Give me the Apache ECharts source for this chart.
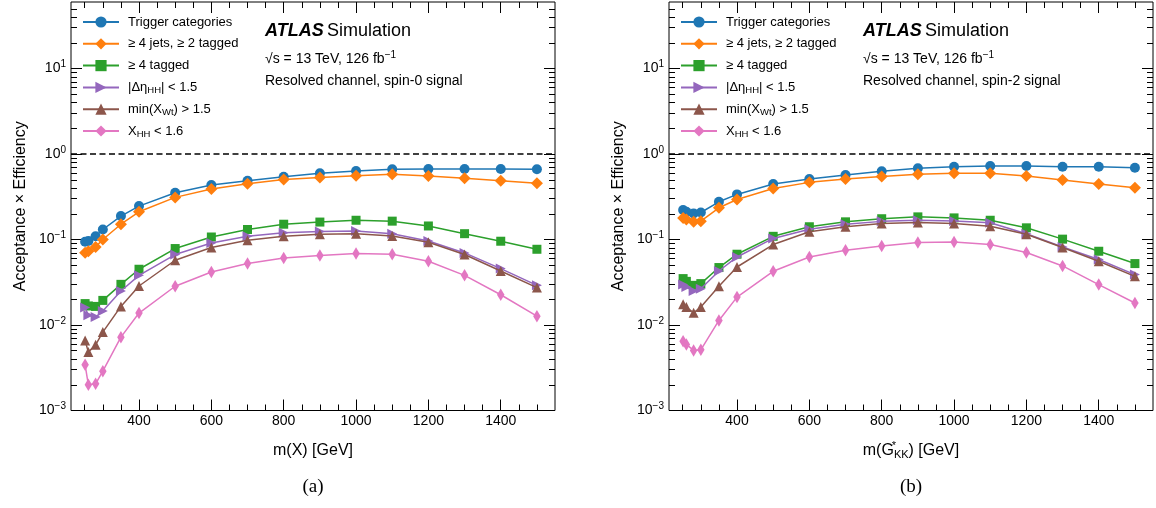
<!DOCTYPE html>
<html>
<head>
<meta charset="utf-8">
<script src="https://cdn.jsdelivr.net/npm/echarts@6/dist/echarts.min.js"></script>
<style>html,body{margin:0;padding:0;background:#fff}#c{width:1156px;height:508px}</style>
</head>
<body>
<div id="c"></div>
<script>
// ---------- data ----------
const massX = [251, 260, 280, 300, 350, 400, 500, 600, 700, 800, 900, 1000, 1100, 1200, 1300, 1400, 1500];

const seriesNames = ['Trigger categories', '≥ 4 jets, ≥ 2 tagged', '≥ 4 tagged', '|Δη_HH| < 1.5', 'min(X_Wt) > 1.5', 'X_HH < 1.6'];

// (a) spin-0
const trigger0 = [0.094, 0.096, 0.109, 0.131, 0.188, 0.246, 0.352, 0.434, 0.486, 0.542, 0.594, 0.632, 0.662, 0.667, 0.667, 0.667, 0.665];
const jets0    = [0.070, 0.073, 0.082, 0.100, 0.151, 0.211, 0.311, 0.389, 0.449, 0.505, 0.530, 0.557, 0.578, 0.552, 0.519, 0.486, 0.454];
const tagged0  = [0.0178, 0.0167, 0.0165, 0.0194, 0.0299, 0.0449, 0.0784, 0.107, 0.131, 0.151, 0.160, 0.168, 0.164, 0.144, 0.117, 0.0955, 0.0769];
const deta0    = [0.0160, 0.0130, 0.0124, 0.0146, 0.0250, 0.0381, 0.0667, 0.0912, 0.109, 0.120, 0.124, 0.126, 0.117, 0.096, 0.0697, 0.0457, 0.0291];
const xwt0     = [0.00659, 0.00482, 0.00587, 0.00826, 0.0165, 0.0286, 0.0572, 0.0806, 0.0982, 0.109, 0.115, 0.117, 0.110, 0.0929, 0.0667, 0.0428, 0.0274];
const xhh0     = [0.00342, 0.00200, 0.00205, 0.00288, 0.00721, 0.0138, 0.0284, 0.0417, 0.0523, 0.0609, 0.065, 0.0686, 0.0673, 0.0557, 0.0381, 0.0226, 0.0127];

// (b) spin-2
const trigger2 = [0.221, 0.211, 0.202, 0.207, 0.276, 0.337, 0.445, 0.509, 0.567, 0.630, 0.680, 0.710, 0.723, 0.723, 0.710, 0.710, 0.691];
const jets2    = [0.179, 0.171, 0.161, 0.164, 0.235, 0.294, 0.396, 0.466, 0.509, 0.547, 0.578, 0.594, 0.594, 0.552, 0.496, 0.445, 0.403];
const tagged2  = [0.0349, 0.0324, 0.0291, 0.0305, 0.0470, 0.0673, 0.109, 0.141, 0.161, 0.175, 0.184, 0.179, 0.168, 0.137, 0.101, 0.0729, 0.0523];
const deta2    = [0.0297, 0.0278, 0.0250, 0.0266, 0.0428, 0.0625, 0.103, 0.132, 0.151, 0.163, 0.168, 0.165, 0.157, 0.117, 0.0819, 0.0583, 0.0389];
const xwt2     = [0.0175, 0.0162, 0.0139, 0.0162, 0.0284, 0.0477, 0.0873, 0.123, 0.141, 0.154, 0.158, 0.154, 0.143, 0.115, 0.0806, 0.0557, 0.0371];
const xhh2     = [0.00647, 0.00593, 0.00504, 0.00513, 0.0113, 0.0212, 0.0425, 0.0625, 0.0749, 0.0841, 0.0922, 0.0937, 0.0873, 0.0705, 0.0491, 0.0297, 0.0181];

// ticks
const xMajorTicks = [400, 600, 800, 1000, 1200, 1400];
const xMinorTicks = [250, 300, 350, 450, 500, 550, 650, 700, 750, 850, 900, 950, 1050, 1100, 1150, 1250, 1300, 1350, 1450, 1500];
const yMajorTicks = [0.001, 0.01, 0.1, 1, 10];
const yMinorTicks = [];
[0.001, 0.01, 0.1, 1].forEach(d => { for (let k = 2; k <= 9; k++) yMinorTicks.push(+(k * d).toPrecision(3)); });
[20, 30, 40, 50].forEach(v => yMinorTicks.push(v));

// ---------- style ----------
const FONT = '"Liberation Sans", Arial, Helvetica, sans-serif';
const colors = ['#1f77b4', '#ff7f0e', '#2ca02c', '#9467bd', '#8c564b', '#e377c2'];
const symbols = ['circle', 'diamond', 'rect', 'path://M-1,-1 L1,0 L-1,1 Z', 'triangle', 'diamond'];
const symbolSizes = [10, 12, 9, 10, 10, [7.5, 12.5]];
const X_MIN = 212, X_MAX = 1550, Y_MIN = 0.001, Y_MAX = 60;
const grids = [
  { left: 71, top: 2, width: 484, height: 408.5 },
  { left: 669, top: 2, width: 484, height: 408.5 }
];

function legendText(name) {
  if (name === '|Δη_HH| < 1.5') return '|Δη{sub|HH}| < 1.5';
  if (name === 'min(X_Wt) > 1.5') return 'min(X{sub|Wt}) > 1.5';
  if (name === 'X_HH < 1.6') return 'X{sub|HH} < 1.6';
  return name;
}

function xAxesFor(g, name, nameRich) {
  const base = {
    type: 'value', gridIndex: g, min: X_MIN, max: X_MAX,
    axisLine: { show: false }, splitLine: { show: false }
  };
  return [
    Object.assign({}, base, {
      position: 'bottom',
      axisTick: { show: true, inside: true, length: 11, lineStyle: { color: '#000', width: 1 }, customValues: xMajorTicks },
      axisLabel: { show: true, customValues: xMajorTicks, formatter: v => String(v), margin: 4, fontSize: 14, color: '#000', fontFamily: FONT },
      name: name, nameLocation: 'middle', nameGap: 30,
      nameTextStyle: { fontSize: 16, color: '#000', fontFamily: FONT, lineHeight: 20, rich: nameRich }
    }),
    Object.assign({}, base, {
      position: 'bottom',
      axisTick: { show: true, inside: true, length: 6, lineStyle: { color: '#000', width: 1 }, customValues: xMinorTicks },
      axisLabel: { show: false }
    }),
    Object.assign({}, base, {
      position: 'top',
      axisTick: { show: true, inside: true, length: 11, lineStyle: { color: '#000', width: 1 }, customValues: xMajorTicks },
      axisLabel: { show: false }
    }),
    Object.assign({}, base, {
      position: 'top',
      axisTick: { show: true, inside: true, length: 6, lineStyle: { color: '#000', width: 1 }, customValues: xMinorTicks },
      axisLabel: { show: false }
    })
  ];
}

function yLabel(v) {
  const e = Math.round(Math.log10(v));
  return '10{sup|' + (e < 0 ? '−' + (-e) : String(e)) + '}';
}

function yAxesFor(g) {
  const base = {
    type: 'log', logBase: 10, gridIndex: g, min: Y_MIN, max: Y_MAX,
    axisLine: { show: false }, splitLine: { show: false }, minorTick: { show: false }
  };
  return [
    Object.assign({}, base, {
      position: 'left',
      axisTick: { show: true, inside: true, length: 11, lineStyle: { color: '#000', width: 1 }, customValues: yMajorTicks },
      axisLabel: { show: true, customValues: yMajorTicks, formatter: yLabel, margin: 5, fontSize: 14, lineHeight: 18,
        color: '#000', fontFamily: FONT, rich: { sup: { fontSize: 10, verticalAlign: 'top', lineHeight: 10, color: '#000', fontFamily: FONT } } },
      name: 'Acceptance × Efficiency', nameLocation: 'middle', nameGap: 42, nameRotate: 90,
      nameTextStyle: { fontSize: 16, color: '#000', fontFamily: FONT }
    }),
    Object.assign({}, base, {
      position: 'left',
      axisTick: { show: true, inside: true, length: 6, lineStyle: { color: '#000', width: 1 }, customValues: yMinorTicks },
      axisLabel: { show: false }
    }),
    Object.assign({}, base, {
      position: 'right',
      axisTick: { show: true, inside: true, length: 11, lineStyle: { color: '#000', width: 1 }, customValues: yMajorTicks },
      axisLabel: { show: false }
    }),
    Object.assign({}, base, {
      position: 'right',
      axisTick: { show: true, inside: true, length: 6, lineStyle: { color: '#000', width: 1 }, customValues: yMinorTicks },
      axisLabel: { show: false }
    })
  ];
}

function makeSeries(panel, arrays) {
  return arrays.map((arr, i) => {
    const s = {
      name: seriesNames[i], type: 'line',
      xAxisIndex: panel * 4, yAxisIndex: panel * 4,
      data: massX.map((m, j) => [m, arr[j]]),
      symbol: symbols[i], symbolSize: symbolSizes[i],
      showSymbol: true,
      lineStyle: { color: colors[i], width: 1.5 },
      itemStyle: { color: colors[i] },
      emphasis: { disabled: true },
      animation: false, z: 3 + i
    };
    if (i === 0) {
      s.markLine = {
        silent: true, symbol: ['none', 'none'], animation: false,
        label: { show: false },
        lineStyle: { color: '#000', type: [6, 3.5], width: 1.5 },
        data: [{ yAxis: 1 }]
      };
    }
    return s;
  });
}

function legendFor(left) {
  return {
    orient: 'vertical', left: left, top: 14, padding: 0,
    itemWidth: 36, itemHeight: 14, itemGap: 5.8,
    data: seriesNames,
    formatter: legendText,
    selectedMode: false,
    textStyle: { fontSize: 13, color: '#000', fontFamily: FONT, padding: [0, 0, 0, 4], lineHeight: 16,
      rich: { sub: { fontSize: 9.5, verticalAlign: 'bottom', lineHeight: 10, color: '#000', fontFamily: FONT } } }
  };
}

function annotations(x0, spin) {
  return [
    { type: 'text', x: x0, y: 31, style: { text: '{b|ATLAS} {n|Simulation}', verticalAlign: 'middle', fill: '#000',
        rich: { b: { fontSize: 18, fontWeight: 'bold', fontStyle: 'italic', fontFamily: FONT, fill: '#000' },
                n: { fontSize: 18, fontFamily: FONT, fill: '#000' } } } },
    { type: 'text', x: x0, y: 59, style: { text: '√s = 13 TeV, 126 fb{sup|−1}', verticalAlign: 'middle', fill: '#000',
        font: '14px ' + FONT, lineHeight: 18,
        rich: { sup: { fontSize: 10, verticalAlign: 'top', lineHeight: 9, fontFamily: FONT, fill: '#000' } } } },
    { type: 'text', x: x0, y: 81, style: { text: 'Resolved channel, ' + spin + ' signal', verticalAlign: 'middle', fill: '#000',
        font: '14px ' + FONT } }
  ];
}

const chart = echarts.init(document.getElementById('c'), null, { renderer: 'canvas' });
chart.setOption({
  animation: false,
  backgroundColor: '#fff',
  grid: grids.map(g => Object.assign({ show: true, borderColor: '#000', borderWidth: 1, backgroundColor: 'transparent', containLabel: false }, g)),
  xAxis: xAxesFor(0, 'm(X) [GeV]', {}).concat(
    xAxesFor(1, 'm(G{st|*}{sb|KK}) [GeV]', {
      st: { fontSize: 11, verticalAlign: 'top', lineHeight: 10, width: 0.01, fontFamily: FONT, color: '#000' },
      sb: { fontSize: 11, verticalAlign: 'bottom', lineHeight: 10, fontFamily: FONT, color: '#000' }
    })),
  yAxis: yAxesFor(0).concat(yAxesFor(1)),
  legend: [legendFor(82), legendFor(680)],
  series: makeSeries(0, [trigger0, jets0, tagged0, deta0, xwt0, xhh0])
    .concat(makeSeries(1, [trigger2, jets2, tagged2, deta2, xwt2, xhh2])),
  graphic: annotations(265, 'spin-0').concat(annotations(863, 'spin-2')).concat([
    { type: 'text', x: 313, y: 487, style: { text: '(a)', align: 'center', verticalAlign: 'middle', font: '19px "Liberation Serif", "Times New Roman", serif', fill: '#000' } },
    { type: 'text', x: 911, y: 487, style: { text: '(b)', align: 'center', verticalAlign: 'middle', font: '19px "Liberation Serif", "Times New Roman", serif', fill: '#000' } }
  ])
});
</script>
</body>
</html>
